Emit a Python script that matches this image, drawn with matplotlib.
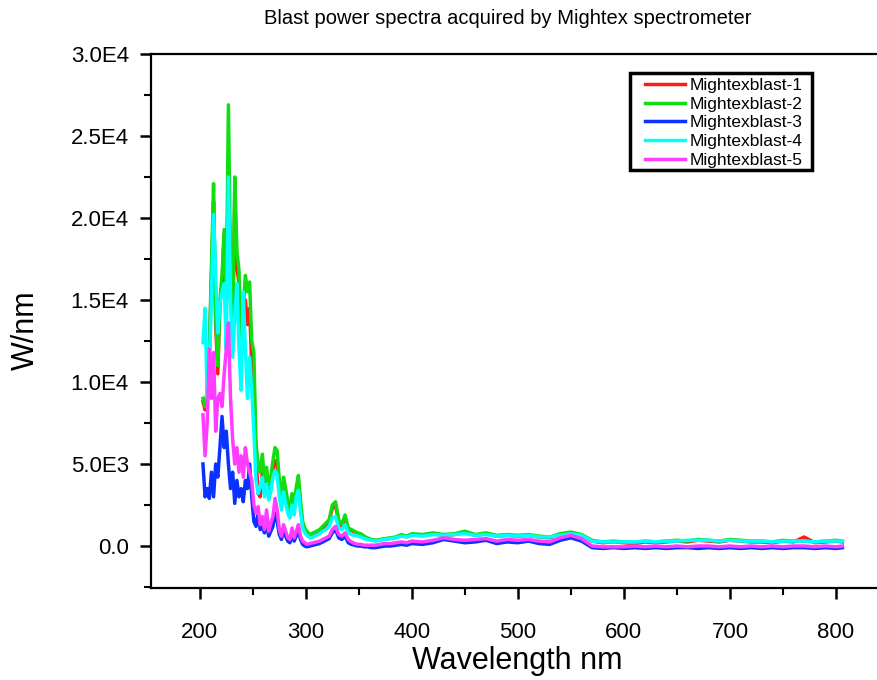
import matplotlib
matplotlib.use('Agg')
import matplotlib.pyplot as plt
from matplotlib.patches import Rectangle
from matplotlib.ticker import MultipleLocator, FuncFormatter

plt.rcParams['font.family'] = ['Liberation Sans', 'DejaVu Sans']

# wavelength grid (nm)
wl = [203, 205, 207, 209, 211, 213, 215, 217, 219, 221, 223, 225, 227, 229, 231, 233, 235, 237, 239, 241,
      243, 245, 247, 249, 251, 253, 255, 257, 259, 261, 263, 265, 267, 269, 271, 273, 275, 277, 279, 281,
      283, 285, 287, 289, 291, 293, 295, 297, 299, 301,
      304, 307, 310, 313, 316, 319, 322, 325, 328, 331, 334, 337, 340, 343, 346, 349, 352, 355, 358,
      362, 366, 370, 375, 380, 385, 390, 395, 400,
      410, 420, 430, 440, 450, 460, 470, 480, 490, 500, 510, 520, 530, 540, 550, 560, 570, 580, 590, 600,
      610, 620, 630, 640, 650, 660, 670, 680, 690, 700, 710, 720, 730, 740, 750, 760, 770, 780, 790, 800, 806]

blast1 = [8800, 8300, 9300, 11500, 16500, 21000, 13500, 10500, 14800, 16000, 19000, 14500, 23000, 16000, 12500, 21500, 17000, 16000, 11500, 13800,
          15000, 13500, 14500, 11000, 9500, 5500, 3200, 3000, 4500, 3500, 4200, 3200, 3800, 4600, 5200, 5000, 3500, 2600, 3600, 3000,
          2300, 2000, 2800, 2200, 3100, 3800, 2400, 1300, 1000, 800,
          650, 750, 850, 950, 1100, 1300, 1500, 2300, 2500, 1500, 1200, 1700, 1000, 950, 850, 750, 700, 550, 450,
          380, 330, 380, 420, 480, 520, 650, 570, 700,
          650, 750, 650, 700, 850, 650, 750, 600, 650, 600, 650, 550, 500, 700, 800, 650, 300, 200, 250, 200,
          150, 250, 200, 250, 300, 250, 350, 300, 250, 350, 300, 250, 250, 200, 300, 250, 550, 200, 250, 300, 250]

blast2 = [9000, 8500, 9500, 12000, 17000, 22100, 14000, 11000, 15000, 16500, 19300, 15000, 26900, 17000, 13000, 22500, 18000, 16800, 12000, 14500,
          16500, 15500, 16100, 12500, 11800, 6300, 5000, 4500, 5600, 4000, 4800, 3600, 4200, 5200, 6000, 5800, 4000, 3000, 4200, 3500,
          2700, 2300, 3200, 2500, 3600, 4300, 2800, 1500, 1100, 900,
          700, 800, 900, 1000, 1200, 1400, 1600, 2500, 2700, 1600, 1300, 1900, 1100, 1000, 900, 800, 750, 600, 500,
          400, 350, 400, 450, 500, 550, 700, 600, 750,
          700, 800, 700, 750, 900, 700, 800, 650, 700, 650, 700, 600, 550, 750, 850, 700, 350, 250, 300, 250,
          200, 300, 250, 300, 350, 300, 400, 350, 300, 400, 350, 300, 300, 250, 350, 300, 300, 250, 300, 350, 300]

blast3 = [5000, 3000, 3500, 2900, 4500, 3000, 5000, 4200, 6000, 7900, 6000, 7000, 5000, 3500, 4500, 2600, 4000, 3000, 3500, 2700,
          4000, 3500, 5000, 3000, 1500, 1200, 2000, 1000, 1200, 800, 1500, 600, 900, 1200, 2000, 1500, 700, 400, 900, 600,
          300, 200, 700, 300, 600, 900, 400, 100, 0, -50,
          0, 50, 100, 150, 250, 350, 450, 800, 1000, 500, 400, 600, 200, 100, 50, 0, 0, -50, -50,
          -100, -100, -50, 0, 0, 50, 100, 50, 150,
          100, 200, 400, 300, 200, 250, 350, 150, 250, 200, 300, 150, 100, 350, 500, 300, -100, -150, -100, -150,
          -100, -150, -100, -150, -100, -100, -150, -100, -150, -100, -150, -100, -150, -100, -150, -100, -100, -150, -100, -150, -100]

blast4 = [12400, 14500, 9000, 11000, 15000, 20200, 16500, 13000, 14800, 15500, 16000, 12000, 22500, 15000, 11500, 14000, 16000, 12000, 9500, 15500,
          12000, 9000, 11500, 9500, 7000, 4000, 3200, 3600, 4200, 3000, 3800, 2800, 3300, 4200, 4600, 4300, 3000, 2200, 3300, 2600,
          2000, 1700, 2500, 1900, 3000, 3400, 2100, 1100, 800, 650,
          500, 550, 650, 750, 900, 1000, 1200, 1700, 1800, 1100, 1000, 1300, 800, 700, 650, 600, 550, 450, 400,
          350, 300, 350, 400, 450, 500, 600, 550, 650,
          600, 700, 650, 700, 750, 650, 700, 600, 650, 600, 650, 550, 550, 650, 750, 650, 300, 250, 250, 250,
          250, 300, 250, 300, 300, 350, 350, 350, 300, 350, 300, 300, 300, 250, 300, 300, 300, 250, 300, 300, 300]

blast5 = [8000, 5500, 7500, 12000, 9000, 11800, 7000, 9000, 9300, 8500, 10500, 12000, 13600, 9000, 6500, 5000, 6000, 4500, 5500, 4200,
          6000, 5000, 4500, 4000, 2500, 2000, 2400, 1300, 1800, 1000, 2200, 900, 1400, 1800, 2900, 2200, 1000, 600, 1300, 900,
          500, 400, 1100, 500, 900, 1300, 600, 300, 200, 100,
          150, 200, 250, 300, 400, 500, 600, 1000, 1200, 700, 600, 800, 400, 250, 150, 100, 100, 50, 50,
          50, 50, 100, 150, 150, 200, 250, 200, 300,
          250, 350, 500, 400, 350, 400, 450, 300, 400, 350, 400, 300, 250, 500, 650, 450, 0, -50, -50, -50,
          0, -50, 0, -50, 0, -50, 0, 0, -50, 0, -50, 0, -50, 0, -50, 0, 0, -50, 0, -50, 0]

labels = ['Mightexblast-1', 'Mightexblast-2', 'Mightexblast-3', 'Mightexblast-4', 'Mightexblast-5']
colors = ['#ff1a1a', '#11dd11', '#0a32ff', '#00ffff', '#ff3cff']

fig = plt.figure(figsize=(8.77, 6.8), dpi=100)
ax = fig.add_axes([151/877, 92/680, 738/877, 534/680])

for ys, lab, col in zip([blast1, blast2, blast3, blast4, blast5], labels, colors):
    ax.plot(wl, ys, color=col, lw=2.5, label=lab)

ax.set_xlim(154, 850)
ax.set_ylim(-2560, 30000)

ax.xaxis.set_major_locator(MultipleLocator(100))
ax.xaxis.set_minor_locator(MultipleLocator(50))
ax.yaxis.set_major_locator(MultipleLocator(5000))
ax.yaxis.set_minor_locator(MultipleLocator(2500))


def fmt(v, pos):
    if abs(v) < 1e-9:
        return '0.0'
    s = '%.1E' % v
    mant, ex = s.split('E')
    return mant + 'E' + str(int(ex))


ax.yaxis.set_major_formatter(FuncFormatter(fmt))

ax.spines['right'].set_visible(False)
for sp in ['left', 'bottom', 'top']:
    ax.spines[sp].set_linewidth(1.6)
ax.tick_params(which='major', direction='out', length=8, width=1.8, labelsize=16)
ax.tick_params(which='minor', direction='out', length=5, width=1.5)
ax.tick_params(axis='x', pad=16.5)
ax.tick_params(axis='y', pad=8)
ax.tick_params(top=False, right=False, which='both')

fig.text(508/877, 1 - 18/680, 'Blast power spectra acquired by Mightex spectrometer',
         ha='center', va='center', fontsize=14.5)
fig.text(517/877, 1 - 661/680, 'Wavelength nm', ha='center', va='center', fontsize=22)
fig.text(26/877, 1 - 330/680, 'W/nm', ha='center', va='center', fontsize=22, rotation=90)

# legend without its own frame, the box is drawn as a separate rectangle
leg = ax.legend(loc='upper left', bbox_to_anchor=(645/877, 1 - 78/680), bbox_transform=fig.transFigure,
                fontsize=12.5, frameon=False, borderaxespad=0, borderpad=0,
                labelspacing=0.2, handlelength=2.3, handletextpad=0.25)
for line in leg.get_lines():
    line.set_linewidth(2.5)
fig.patches.append(Rectangle((630/877, 1 - 170/680), 182/877, 97/680, transform=fig.transFigure,
                             fill=False, edgecolor='black', lw=2.5, zorder=5))

fig.savefig('out.png', dpi=100)
